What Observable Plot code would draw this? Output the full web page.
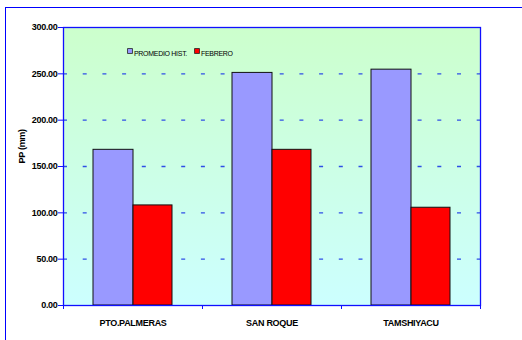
<!DOCTYPE html>
<html>
<head>
<meta charset="utf-8">
<script src="https://cdn.jsdelivr.net/npm/d3@7"></script>
<script src="https://cdn.jsdelivr.net/npm/@observablehq/plot@0.6"></script>
<style>
  html, body { margin: 0; padding: 0; background: #fff; overflow: hidden; width: 522px; height: 340px; }
  #wrap { position: relative; width: 522px; height: 340px; }
  #border { position: absolute; left: 5px; top: 7px; width: 700px; height: 500px; border-left: 1.5px solid #0000ff; border-top: 1.5px solid #0000ff; pointer-events: none; }
  svg { font-family: "Liberation Sans", Arial, sans-serif; }
  svg text { letter-spacing: -0.3px; }
</style>
</head>
<body>
<div id="wrap"><div id="border"></div></div>
<script>
const categories = ["PTO.PALMERAS", "SAN ROQUE", "TAMSHIYACU"];
const series = ["PROMEDIO HIST.", "FEBRERO"];
const promedio = [168, 251, 254.5];
const febrero = [108, 168, 105.5];
const yTicks = [0, 50, 100, 150, 200, 250, 300];

const colors = ["#9999ff", "#ff0000"];
const rows = [];
categories.forEach((c, i) => {
  rows.push({cat: c, series: series[0], value: promedio[i]});
  rows.push({cat: c, series: series[1], value: febrero[i]});
});
const gridVals = yTicks.filter(v => v > 0 && v < 300);
const font = {fontFamily: "Liberation Sans, Arial, sans-serif"};

const chart = Plot.plot({
  width: 522,
  height: 340,
  marginLeft: 63,
  marginRight: 42,
  marginTop: 27,
  marginBottom: 35,
  x: {domain: categories, padding: 0, axis: null, label: null},
  y: {domain: [0, 300], axis: null, label: null},
  marks: [
    Plot.frame({fill: "url(#bg)"}),
    Plot.ruleY(gridVals, {stroke: "#2f4fe6", strokeWidth: 1.3, strokeDasharray: "4,15.7"}),
    Plot.barY(rows.filter(d => d.series === series[0]), {x: "cat", y: "value", fill: colors[0], stroke: "#111", strokeWidth: 1, insetLeft: 30, insetRight: 69}),
    Plot.barY(rows.filter(d => d.series === series[1]), {x: "cat", y: "value", fill: colors[1], stroke: "#111", strokeWidth: 1, insetLeft: 70, insetRight: 30}),
    Plot.frame({stroke: "#1010ff", strokeWidth: 1.3}),
    Plot.axisY({ticks: yTicks, tickFormat: d3.format(".2f"), tickSize: 5, tickPadding: 1, label: null, stroke: "#1010ff", fill: "#000", fontSize: 9, fontWeight: "bold", ...font}),
    Plot.axisX({tickSize: 0, tickPadding: 14, label: null, fill: "#000", fontSize: 9, fontWeight: "bold", ...font}),
    Plot.axisX({tickSize: 4, tickFormat: () => "", label: null, dx: 69.5, stroke: "#1010ff"}),
    Plot.axisX({ticks: [categories[0]], tickSize: 4, tickFormat: () => "", label: null, dx: -69.5, stroke: "#1010ff"}),
    Plot.text(["PP (mm)"], {frameAnchor: "left", dx: -41, dy: -3, rotate: -90, fontSize: 9, fontWeight: "bold", fill: "#000", ...font}),
    Plot.dot([series[0]], {frameAnchor: "top-left", dx: 66.5, dy: 23.5, symbol: "square", r: 2.8, fill: colors[0], stroke: "#222", strokeWidth: 0.8}),
    Plot.text([series[0]], {frameAnchor: "top-left", dx: 70.5, dy: 23.5, textAnchor: "start", fontSize: 7, fill: "#000", ...font}),
    Plot.dot([series[1]], {frameAnchor: "top-left", dx: 133.5, dy: 23.5, symbol: "square", r: 2.8, fill: colors[1], stroke: "#222", strokeWidth: 0.8}),
    Plot.text([series[1]], {frameAnchor: "top-left", dx: 137.5, dy: 23.5, textAnchor: "start", fontSize: 7, fill: "#000", ...font})
  ]
});

const defs = d3.select(chart).insert("defs", ":first-child");
const grad = defs.append("linearGradient").attr("id", "bg").attr("x1", 0).attr("y1", 0).attr("x2", 0).attr("y2", 1);
grad.append("stop").attr("offset", "0%").attr("stop-color", "#ccffcc");
grad.append("stop").attr("offset", "100%").attr("stop-color", "#ccffff");

document.getElementById("wrap").prepend(chart);
</script>
</body>
</html>
